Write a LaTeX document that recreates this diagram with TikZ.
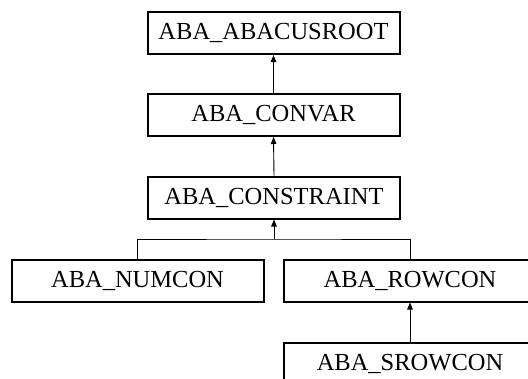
\documentclass[tikz,border=0pt]{standalone}
\usepackage{fontspec}
\setmainfont{Liberation Serif}
\usetikzlibrary{arrows.meta}
\begin{document}
\begin{tikzpicture}[x=1pt,y=-1pt,
  cls/.style={draw=black, line width=2pt, fill=white, minimum width=252pt,
    minimum height=42pt, inner sep=0pt, font=\fontsize{24.5}{28}\selectfont},
  inherit/.style={draw=black, line width=0.9pt, -{Triangle[length=7pt,width=5.5pt]}}]
  \useasboundingbox (0,0) rectangle (528,378);
  \clip (0,0) rectangle (528,378);
  % class boxes
  \node[cls] (root)  at (273.5,33)  {ABA\_ABACUSROOT};
  \node[cls] (conv)  at (273.5,115) {ABA\_CONVAR};
  \node[cls] (cons)  at (274,197.5) {ABA\_CONSTRAINT};
  \node[cls] (num)   at (137.5,280.5) {ABA\_NUMCON};
  \node[cls] (row)   at (410,280.5) {ABA\_ROWCON};
  \node[cls] (srow)  at (410,363.5) {ABA\_SROWCON};
  % inheritance connectors
  \draw[inherit] (conv.north) -- (root.south);
  \draw[inherit] (cons.north) -- (conv.south);
  \coordinate (fork) at (cons.south |- 0,239);
  \draw[line width=0.9pt] (num.north) |- (fork) -| (row.north);
  \draw[inherit] (fork) -- (cons.south);
  \draw[inherit] (srow.north) -- (row.south);
\end{tikzpicture}
\end{document}
